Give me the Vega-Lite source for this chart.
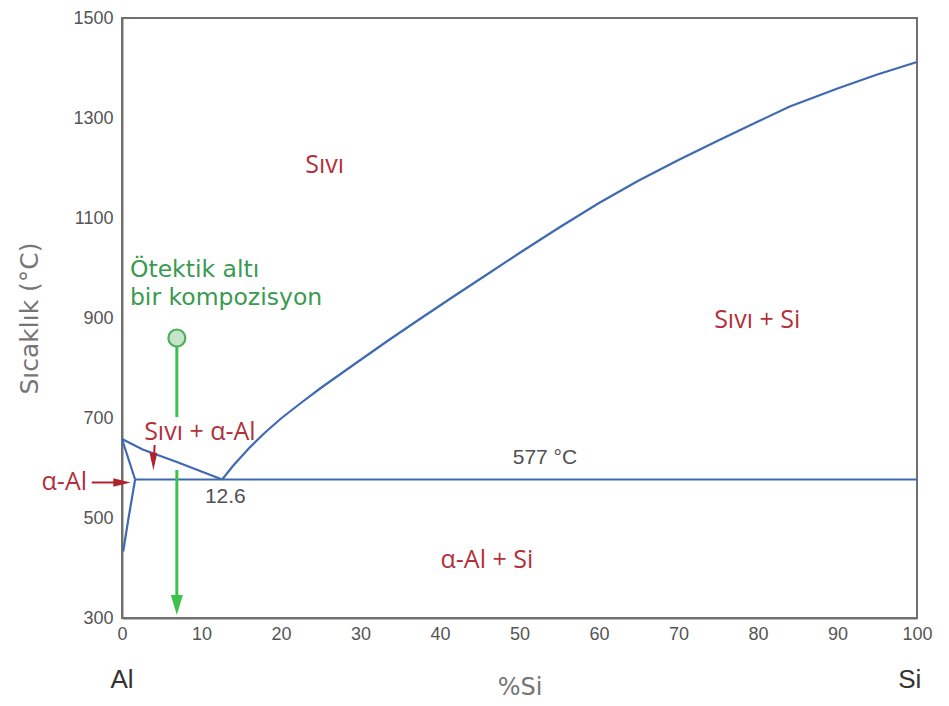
{
  "$schema": "https://vega.github.io/schema/vega-lite/v6.json",
  "width": 795,
  "height": 600,
  "autosize": "none",
  "padding": {"left": 122, "top": 18, "right": 32, "bottom": 88},
  "background": "white",
  "config": {
    "view": {"stroke": "#707070", "strokeWidth": 2},
    "axis": {"grid": false, "ticks": false, "domainColor": "#707070", "domainWidth": 2,
      "labelFont": "Liberation Sans", "labelFontSize": 18, "labelColor": "#555555",
      "titleFont": "DejaVu Sans", "titleFontWeight": "normal", "titleColor": "#767676", "titleFontSize": 24}
  },
  "datasets": {
    "curves": [
      {"seg": "liqAl", "ord": 1, "x": 0, "T": 658},
      {"seg": "liqAl", "ord": 2, "x": 2.6, "T": 637},
      {"seg": "liqAl", "ord": 3, "x": 6.9, "T": 612},
      {"seg": "liqAl", "ord": 4, "x": 12.6, "T": 577},
      {"seg": "sol", "ord": 1, "x": 0, "T": 658},
      {"seg": "sol", "ord": 2, "x": 1.65, "T": 577},
      {"seg": "solv", "ord": 1, "x": 1.65, "T": 577},
      {"seg": "solv", "ord": 2, "x": 0.8, "T": 498},
      {"seg": "solv", "ord": 3, "x": 0.15, "T": 433},
      {"seg": "eut", "ord": 1, "x": 1.65, "T": 577},
      {"seg": "eut", "ord": 2, "x": 100, "T": 577},
      {"seg": "liqSi", "ord": 1, "x": 12.6, "T": 577},
      {"seg": "liqSi", "ord": 2, "x": 14, "T": 605},
      {"seg": "liqSi", "ord": 3, "x": 16, "T": 640},
      {"seg": "liqSi", "ord": 4, "x": 18, "T": 671},
      {"seg": "liqSi", "ord": 5, "x": 20, "T": 699},
      {"seg": "liqSi", "ord": 6, "x": 22.5, "T": 730},
      {"seg": "liqSi", "ord": 7, "x": 25, "T": 760},
      {"seg": "liqSi", "ord": 8, "x": 29, "T": 805},
      {"seg": "liqSi", "ord": 9, "x": 33.3, "T": 853},
      {"seg": "liqSi", "ord": 10, "x": 37, "T": 893},
      {"seg": "liqSi", "ord": 11, "x": 41.6, "T": 942},
      {"seg": "liqSi", "ord": 12, "x": 46, "T": 988},
      {"seg": "liqSi", "ord": 13, "x": 50, "T": 1030},
      {"seg": "liqSi", "ord": 14, "x": 55, "T": 1081},
      {"seg": "liqSi", "ord": 15, "x": 60, "T": 1130},
      {"seg": "liqSi", "ord": 16, "x": 65, "T": 1175},
      {"seg": "liqSi", "ord": 17, "x": 70, "T": 1216},
      {"seg": "liqSi", "ord": 18, "x": 75, "T": 1255},
      {"seg": "liqSi", "ord": 19, "x": 80, "T": 1293},
      {"seg": "liqSi", "ord": 20, "x": 84, "T": 1323},
      {"seg": "liqSi", "ord": 21, "x": 87, "T": 1341},
      {"seg": "liqSi", "ord": 22, "x": 90, "T": 1359},
      {"seg": "liqSi", "ord": 23, "x": 95, "T": 1387},
      {"seg": "liqSi", "ord": 24, "x": 100, "T": 1412}
    ],
    "greenRules": [
      {"x": 6.9, "T": 852, "T2": 702},
      {"x": 6.9, "T": 596, "T2": 338}
    ],
    "greenHead": [{"x": 6.9, "T": 326}],
    "greenDot": [{"x": 6.9, "T": 860}],
    "redRules": [
      {"x": -3.8, "T": 571, "x2": 0.2, "T2": 571},
      {"x": 4.1, "T": 646, "x2": 4.0, "T2": 614}
    ],
    "redHeads": [
      {"x": 0.0, "T": 571, "dir": "right"},
      {"x": 3.95, "T": 613, "dir": "down"}
    ],
    "redLabels": [
      {"x": 25.5, "T": 1206, "label": "Sıvı"},
      {"x": 9.8, "T": 672, "label": "Sıvı + α-Al"},
      {"x": 79.9, "T": 896, "label": "Sıvı + Si"},
      {"x": 45.9, "T": 416, "label": "α-Al + Si"}
    ],
    "redLeft": [
      {"x": -4.4, "T": 572, "label": "α-Al"}
    ],
    "grayLabels": [
      {"x": 13.0, "T": 542, "label": "12.6"},
      {"x": 53.2, "T": 620, "label": "577 °C"}
    ],
    "greenLabels": [
      {"x": 1.0, "T": 982, "label": "Ötektik altı"},
      {"x": 1.0, "T": 926, "label": "bir kompozisyon"}
    ],
    "endLabels": [
      {"x": 0, "T": 176, "label": "Al"},
      {"x": 99.1, "T": 176, "label": "Si"}
    ]
  },
  "layer": [
    {
      "data": {"name": "curves"},
      "mark": {"type": "line", "color": "#3f6ab3", "strokeWidth": 2.2},
      "encoding": {
        "x": {"field": "x", "type": "quantitative",
          "scale": {"domain": [0, 100], "nice": false, "zero": false},
          "axis": {"values": [0, 10, 20, 30, 40, 50, 60, 70, 80, 90, 100], "labelFlush": false, "labelPadding": 7, "title": "%Si", "titlePadding": 32}},
        "y": {"field": "T", "type": "quantitative",
          "scale": {"domain": [300, 1500], "nice": false, "zero": false},
          "axis": {"values": [300, 500, 700, 900, 1100, 1300, 1500], "format": "d", "labelFlush": false, "labelPadding": 9, "title": "Sıcaklık (°C)", "titleFontSize": 25, "titlePadding": 30}},
        "detail": {"field": "seg"},
        "order": {"field": "ord", "type": "quantitative"}
      }
    },
    {
      "data": {"name": "greenRules"},
      "mark": {"type": "rule", "color": "#3cc24c", "strokeWidth": 3},
      "encoding": {
        "x": {"field": "x", "type": "quantitative"},
        "y": {"field": "T", "type": "quantitative"},
        "y2": {"field": "T2"}
      }
    },
    {
      "data": {"name": "greenHead"},
      "mark": {"type": "point", "shape": "M-0.6,-1L0.6,-1L0,1Z", "size": 400, "filled": true, "color": "#3cc24c", "opacity": 1},
      "encoding": {
        "x": {"field": "x", "type": "quantitative"},
        "y": {"field": "T", "type": "quantitative"}
      }
    },
    {
      "data": {"name": "greenDot"},
      "mark": {"type": "point", "shape": "circle", "size": 289, "filled": true, "fill": "#c6e4c9", "stroke": "#4caf5c", "strokeWidth": 2.2, "opacity": 1},
      "encoding": {
        "x": {"field": "x", "type": "quantitative"},
        "y": {"field": "T", "type": "quantitative"}
      }
    },
    {
      "data": {"name": "redRules"},
      "mark": {"type": "rule", "color": "#b0232e", "strokeWidth": 2},
      "encoding": {
        "x": {"field": "x", "type": "quantitative"},
        "x2": {"field": "x2"},
        "y": {"field": "T", "type": "quantitative"},
        "y2": {"field": "T2"}
      }
    },
    {
      "data": {"name": "redHeads"},
      "mark": {"type": "point", "size": 300, "filled": true, "color": "#b0232e", "opacity": 1},
      "encoding": {
        "x": {"field": "x", "type": "quantitative"},
        "y": {"field": "T", "type": "quantitative"},
        "shape": {"field": "dir", "type": "nominal", "legend": null,
          "scale": {"domain": ["right", "down"], "range": ["M-1,-0.5L1,0L-1,0.5Z", "M-0.45,-1L0.45,-1L0,1Z"]}}
      }
    },
    {
      "data": {"name": "redLabels"},
      "mark": {"type": "text", "font": "Open Sans", "fontSize": 25, "color": "#b3303a", "align": "center", "baseline": "middle"},
      "encoding": {
        "x": {"field": "x", "type": "quantitative"},
        "y": {"field": "T", "type": "quantitative"},
        "text": {"field": "label"}
      }
    },
    {
      "data": {"name": "redLeft"},
      "mark": {"type": "text", "font": "Open Sans", "fontSize": 25, "color": "#b3303a", "align": "right", "baseline": "middle"},
      "encoding": {
        "x": {"field": "x", "type": "quantitative"},
        "y": {"field": "T", "type": "quantitative"},
        "text": {"field": "label"}
      }
    },
    {
      "data": {"name": "grayLabels"},
      "mark": {"type": "text", "font": "Liberation Sans", "fontSize": 21, "color": "#505050", "align": "center", "baseline": "middle"},
      "encoding": {
        "x": {"field": "x", "type": "quantitative"},
        "y": {"field": "T", "type": "quantitative"},
        "text": {"field": "label"}
      }
    },
    {
      "data": {"name": "greenLabels"},
      "mark": {"type": "text", "font": "DejaVu Sans", "fontSize": 23.5, "color": "#3a9a50", "align": "left", "baseline": "alphabetic"},
      "encoding": {
        "x": {"field": "x", "type": "quantitative"},
        "y": {"field": "T", "type": "quantitative"},
        "text": {"field": "label"}
      }
    },
    {
      "data": {"name": "endLabels"},
      "mark": {"type": "text", "font": "Liberation Sans", "fontSize": 26, "color": "#333333", "align": "center", "baseline": "middle"},
      "encoding": {
        "x": {"field": "x", "type": "quantitative"},
        "y": {"field": "T", "type": "quantitative"},
        "text": {"field": "label"}
      }
    }
  ]
}
